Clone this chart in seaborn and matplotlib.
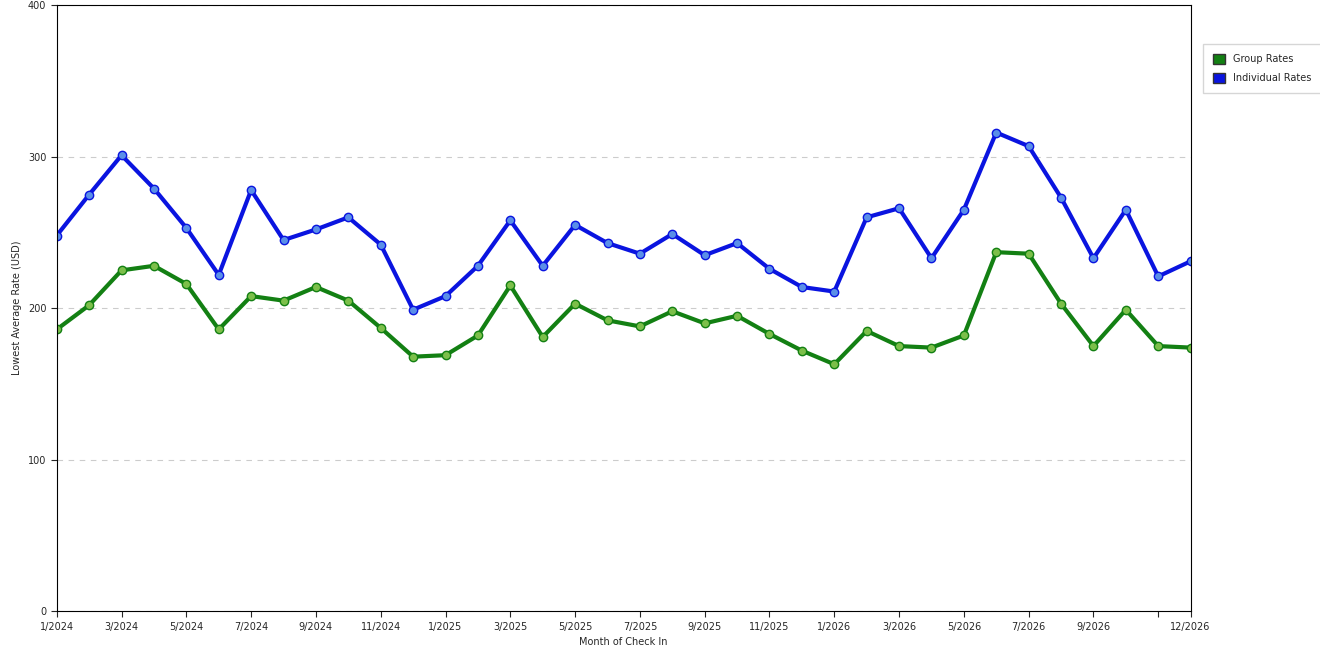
import matplotlib
matplotlib.use("Agg")
import matplotlib.pyplot as plt
import seaborn as sns
import pandas as pd

# monthly data
months = [f"{m}/{y}" for y in (2024, 2025, 2026) for m in range(1, 13)]
individual = [248, 275, 301, 279, 253, 222, 278, 245, 252, 260, 242, 199,
              208, 228, 258, 228, 255, 243, 236, 249, 235, 243, 226, 214,
              211, 260, 266, 233, 265, 316, 307, 273, 233, 265, 221, 231]
group = [186, 202, 225, 228, 216, 186, 208, 205, 214, 205, 187, 168,
         169, 182, 215, 181, 203, 192, 188, 198, 190, 195, 183, 172,
         163, 185, 175, 174, 182, 237, 236, 203, 175, 199, 175, 174]

df = pd.DataFrame({"idx": range(len(months)), "Group Rates": group, "Individual Rates": individual})

sns.set_style("white")
plt.rcParams['font.family'] = ['DejaVu Sans']
fig = plt.figure(figsize=(13.2, 6.6), dpi=100)
ax = fig.add_axes([0.043, 0.074, 0.859, 0.918])

for col, color, mfc in [("Group Rates", "#138013", "#7cbf4a"), ("Individual Rates", "#0a14e0", "#5a8fe8")]:
    sns.lineplot(data=df, x="idx", y=col, ax=ax, color=color, linewidth=3,
                 marker="o", markersize=6, markerfacecolor=mfc, markeredgecolor=color,
                 markeredgewidth=1, label=col, legend=False)

ax.set_xlim(0, len(months) - 1)
ax.set_ylim(0, 400)
ax.set_yticks([0, 100, 200, 300, 400])
ax.yaxis.grid(True, linestyle=(0, (5, 5)), color="#cccccc", linewidth=0.8)
ticks = list(range(0, 36, 2)) + [35]
labels = [months[i] if i != 34 else "" for i in ticks]
ax.set_xticks(ticks)
ax.set_xticklabels(labels, fontsize=7)
ax.tick_params(axis="y", labelsize=7)
ax.tick_params(axis="both", length=4, direction="out", bottom=True, left=True)
for s in ax.spines.values():
    s.set_color("black")
    s.set_linewidth(0.8)
ax.set_xlabel("Month of Check In", fontsize=7)
ax.set_ylabel("Lowest Average Rate (USD)", fontsize=7)

from matplotlib.patches import Patch
handles = [Patch(facecolor="#138013", edgecolor="#333333", label="Group Rates"),
           Patch(facecolor="#0a14e0", edgecolor="#333333", label="Individual Rates")]
fig.legend(handles=handles, loc="upper left", bbox_to_anchor=(0.908, 0.94), fontsize=7,
           frameon=True, fancybox=False, edgecolor="#cccccc", handlelength=1.2, handleheight=1.2,
           borderpad=1, labelspacing=0.9)

fig.savefig("out.png", dpi=100)
